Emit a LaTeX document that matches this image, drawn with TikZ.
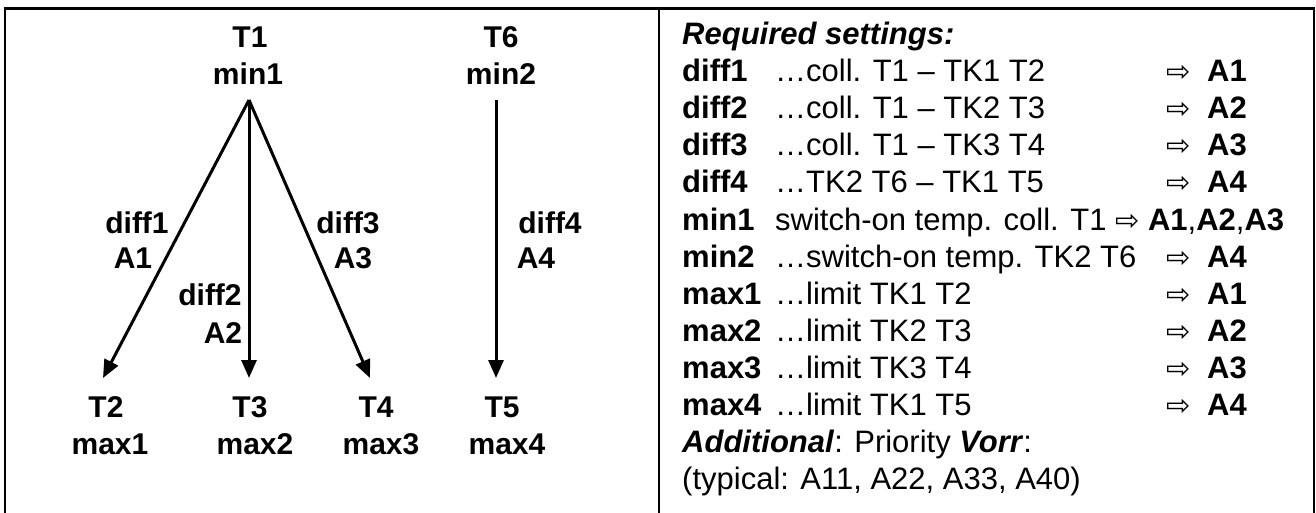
\documentclass[tikz,border=0pt]{standalone}
\usepackage{fontspec}
\setmainfont{Liberation Sans}
\newfontfamily\symfont{DejaVu Sans}
\usetikzlibrary{arrows.meta}
\begin{document}
\begin{tikzpicture}[x=1pt,y=-1pt,
  lbl/.style={font=\fontsize{30}{36}\selectfont\bfseries, inner sep=0pt, anchor=base},
  rt/.style={font=\fontsize{31}{37}\selectfont, inner sep=0pt, anchor=base west},
  rtb/.style={rt, font=\fontsize{31}{37}\selectfont\bfseries},
  sym/.style={font=\fontsize{29}{37}\selectfont\symfont, inner sep=0pt, anchor=base west},
  conn/.style={line width=3pt, -{Triangle[length=18pt,width=15pt]}},
  frame/.style={line width=2.5pt}]
\useasboundingbox (0,0) rectangle (1316,513);
\draw[frame] (5,514) -- (5,8.5) -- (1314,8.5) -- (1314,514);
\draw[line width=2pt] (659,8.5) -- (659,514);
% left panel
\node[lbl] (T1) at (250,48) {T1};
\node[lbl] (min1) at (248,85) {min1};
\node[lbl] (T6) at (501,48) {T6};
\node[lbl] (min2) at (501,85) {min2};
\node[lbl] (T2) at (106,417) {T2};
\node[lbl] (max1) at (110,454) {max1};
\node[lbl] (T3) at (250,417) {T3};
\node[lbl] (max2) at (255,454) {max2};
\node[lbl] (T4) at (376,417) {T4};
\node[lbl] (max3) at (381,454) {max3};
\node[lbl] (T5) at (502,417) {T5};
\node[lbl] (max4) at (507,454) {max4};
\node[lbl] (d1) at (137,233) {diff1};
\node[lbl] (a1) at (133,268) {A1};
\node[lbl] (d2) at (210,305) {diff2};
\node[lbl] (a2) at (223,343) {A2};
\node[lbl] (d3) at (348,233) {diff3};
\node[lbl] (a3) at (353,268) {A3};
\node[lbl] (d4) at (550,233) {diff4};
\node[lbl] (a4) at (536,268) {A4};
\coordinate (apex) at (249,100);
\coordinate (top6) at (496,100);
\coordinate (tip2) at (103,378);
\coordinate (tip3) at (249,378);
\coordinate (tip4) at (370,378);
\coordinate (tip5) at (496,378);
\draw[conn] (apex) -- (tip2);
\draw[conn] (apex) -- (tip3);
\draw[conn] (apex) -- (tip4);
\draw[conn] (top6) -- (tip5);
% right panel
\node[rt] (head) at (682,45) {\textbf{\textit{Required settings:}}};
\foreach \i/\lab/\txt/\A in {1/diff1/{…coll. T1 – TK1 T2}/A1,
  2/diff2/{…coll. T1 – TK2 T3}/A2,
  3/diff3/{…coll. T1 – TK3 T4}/A3,
  4/diff4/{…TK2 T6 – TK1 T5}/A4,
  6/min2/{…switch-on temp. TK2 T6}/A4,
  7/max1/{…limit TK1 T2}/A1,
  8/max2/{…limit TK2 T3}/A2,
  9/max3/{…limit TK3 T4}/A3,
  10/max4/{…limit TK1 T5}/A4}{
  \node[rtb] (rl\i) at (682,45+37*\i) {\lab};
  \node[rt] (rt\i) at (775,45+37*\i) {\txt};
  \node[sym] (ra\i) at (1166,45+37*\i) {⇨};
  \node[rtb] (rA\i) at (1207,45+37*\i) {\A};
}
\node[rtb] (rl5) at (682,230) {min1};
\node[rt] (rt5) at (775,230) {switch-on temp. coll. T1 {\fontsize{29}{37}\selectfont\symfont ⇨} \textbf{A1},\textbf{A2},\textbf{A3}};
\node[rt] (add) at (682,452) {\textbf{\textit{Additional}}: Priority \textbf{\textit{Vorr}}:};
\node[rt] (typ) at (682,489) {(typical: A11, A22, A33, A40)};
\end{tikzpicture}
\end{document}
